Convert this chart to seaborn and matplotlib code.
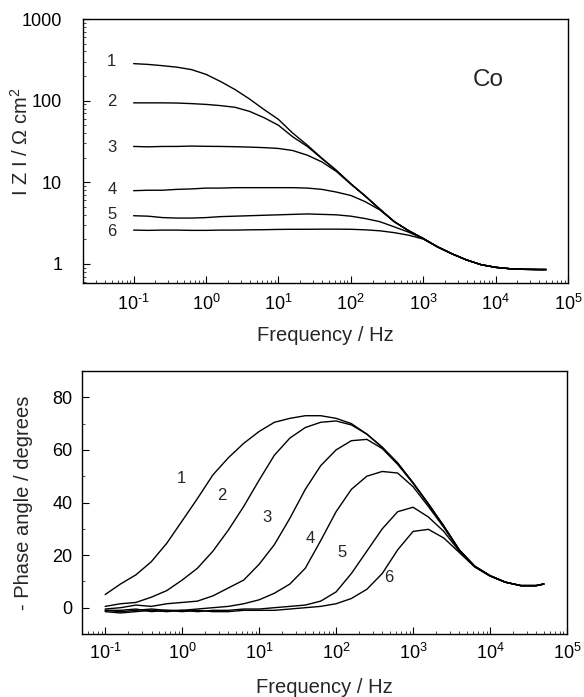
import matplotlib
matplotlib.use("Agg")
import matplotlib.pyplot as plt
import seaborn as sns
import pandas as pd
from matplotlib.ticker import LogLocator, MultipleLocator, NullFormatter, FixedLocator, FixedFormatter

# ---------------- data ----------------
freq = [0.1, 0.158, 0.251, 0.398, 0.631, 1, 1.58, 2.51, 3.98, 6.31, 10, 15.8, 25.1, 39.8, 63.1,
        100, 158, 251, 398, 631, 1000, 1580, 2510, 3980, 6310, 10000, 15800, 25100, 39800, 50000]

z1 = [284, 278, 268, 257, 240, 210, 172, 137, 105, 78, 59, 40, 28.5, 19.8, 14.0,
      9.6, 6.8, 4.7, 3.3, 2.55, 2.05, 1.62, 1.33, 1.12, 0.98, 0.91, 0.875, 0.86, 0.855, 0.855]
z2 = [94, 94, 94, 93.5, 92, 90, 87, 83, 74, 62, 50, 36, 27.5, 19.5, 14.0,
      9.6, 6.8, 4.7, 3.3, 2.55, 2.05, 1.62, 1.33, 1.12, 0.98, 0.91, 0.875, 0.86, 0.855, 0.855]
z3 = [27.5, 27.2, 27.5, 27.5, 27.8, 27.6, 27.5, 27.3, 27.0, 26.6, 26.0, 24.5, 21.5, 17.8, 13.6,
      9.5, 6.8, 4.7, 3.3, 2.55, 2.05, 1.62, 1.33, 1.12, 0.98, 0.91, 0.875, 0.86, 0.855, 0.855]
z4 = [7.9, 8.0, 8.0, 8.2, 8.3, 8.5, 8.5, 8.6, 8.6, 8.6, 8.6, 8.6, 8.5, 8.2, 7.6,
      6.9, 5.8, 4.6, 3.3, 2.55, 2.05, 1.62, 1.33, 1.12, 0.98, 0.91, 0.875, 0.86, 0.855, 0.855]
z5 = [3.9, 3.85, 3.7, 3.65, 3.65, 3.7, 3.8, 3.85, 3.9, 3.95, 4.0, 4.05, 4.1, 4.05, 4.0,
      3.85, 3.6, 3.3, 2.85, 2.45, 2.05, 1.62, 1.33, 1.12, 0.98, 0.91, 0.875, 0.86, 0.855, 0.855]
z6 = [2.6, 2.58, 2.6, 2.6, 2.58, 2.58, 2.6, 2.6, 2.62, 2.63, 2.65, 2.66, 2.66, 2.67, 2.67,
      2.66, 2.62, 2.55, 2.42, 2.25, 2.02, 1.62, 1.33, 1.12, 0.98, 0.91, 0.875, 0.86, 0.855, 0.855]

p1 = [5.0, 9.0, 12.5, 17.5, 24.5, 33.0, 41.5, 50.5, 57.0, 62.5, 67.0, 70.5, 72.0, 73.0, 73.0,
      72.0, 70.0, 66.0, 61.0, 55.0, 47.5, 39.5, 31.0, 22.0, 15.8, 12.2, 9.7, 8.4, 8.4, 9.0]
p2 = [0.5, 1.5, 2.0, 4.0, 6.5, 10.5, 15.0, 21.5, 29.5, 38.5, 48.5, 58.0, 64.5, 68.5, 70.5,
      71.0, 69.5, 66.0, 61.0, 55.0, 47.5, 39.5, 31.0, 22.0, 15.8, 12.2, 9.7, 8.4, 8.4, 9.0]
p3 = [-0.5, 0.0, 1.0, 0.5, 1.5, 2.0, 2.5, 4.5, 7.5, 10.5, 16.5, 24.0, 34.0, 45.0, 54.0,
      60.0, 63.5, 64.0, 60.5, 54.5, 47.3, 39.4, 31.0, 22.0, 15.8, 12.2, 9.7, 8.4, 8.4, 9.0]
p4 = [-1.0, -1.5, -1.0, -0.5, -1.0, -1.0, -0.5, 0.0, 0.5, 1.5, 3.0, 5.5, 9.0, 15.0, 25.5,
      36.5, 45.0, 50.0, 51.8, 51.2, 46.0, 38.5, 30.5, 21.8, 15.7, 12.1, 9.7, 8.4, 8.4, 9.0]
p5 = [-1.5, -2.0, -1.5, -1.0, -1.5, -1.0, -1.5, -1.0, -1.0, -0.5, -0.5, 0.0, 0.5, 1.0, 2.5,
      6.0, 13.0, 21.5, 30.0, 36.5, 38.2, 34.5, 29.0, 21.5, 15.6, 12.1, 9.7, 8.4, 8.4, 9.0]
p6 = [-1.0, -1.0, -0.5, -1.5, -1.0, -1.5, -1.0, -1.5, -1.5, -1.0, -1.0, -1.0, -0.5, 0.0, 0.5,
      1.5, 3.5, 7.0, 13.0, 22.0, 29.0, 29.8, 26.5, 21.0, 15.5, 12.0, 9.7, 8.4, 8.4, 9.0]

curve_names = ["1", "2", "3", "4", "5", "6"]
z_series = [z1, z2, z3, z4, z5, z6]
p_series = [p1, p2, p3, p4, p5, p6]

# tick labels
x_tick_vals = [0.1, 1, 10, 100, 1000, 10000, 100000]
x_tick_labels = ["10$^{\\text{-1}}$", "10$^{0}$", "10$^{1}$", "10$^{2}$", "10$^{3}$",
                 "10$^{4}$", "10$^{5}$"]
z_tick_vals = [1, 10, 100, 1000]
z_tick_labels = ["1", "10", "100", "1000"]
p_tick_vals = [0, 20, 40, 60, 80]

# label positions (data coordinates)
top_label_f = [0.05, 0.05, 0.05, 0.05, 0.05, 0.05]
top_label_z = [300, 97, 26.5, 8.1, 4.0, 2.47]
bot_label_f = [0.97, 3.3, 12.6, 46, 120, 490]
bot_label_p = [49.1, 42.7, 34.3, 26.3, 21.0, 11.4]

rows = []
for name, zs, ps in zip(curve_names, z_series, p_series):
    for f, z, p in zip(freq, zs, ps):
        rows.append({"curve": name, "freq": f, "Z": z, "phase": p})
df = pd.DataFrame(rows)

# ---------------- style ----------------
sns.set_theme(style="ticks")
plt.rcParams["font.family"] = ["Liberation Sans", "DejaVu Sans"]
plt.rcParams["mathtext.fontset"] = "custom"
plt.rcParams["mathtext.rm"] = "Liberation Sans"
plt.rcParams["mathtext.it"] = "Liberation Sans:italic"
plt.rcParams["axes.unicode_minus"] = False
plt.rcParams["axes.edgecolor"] = "black"
plt.rcParams["axes.linewidth"] = 1.0

W, H = 584, 697
fig = plt.figure(figsize=(W / 100, H / 100), dpi=100)
ax1 = fig.add_axes([83 / W, 1 - 283 / H, 485 / W, 264 / H])
ax2 = fig.add_axes([82 / W, 1 - 634 / H, 485 / W, 263 / H])

pal = ["black"] * 6

# ---- top panel: |Z| ----
ax1.set_xscale("log")
ax1.set_yscale("log")
sns.lineplot(data=df, x="freq", y="Z", hue="curve", palette=pal, estimator=None,
             legend=False, linewidth=1.0, ax=ax1)
ax1.set_xlim(0.02, 1e5)
ax1.set_ylim(0.585, 1000)
ax1.yaxis.set_major_locator(FixedLocator(z_tick_vals))
ax1.yaxis.set_major_formatter(FixedFormatter(z_tick_labels))
ax1.yaxis.set_minor_locator(LogLocator(base=10, subs=range(2, 10), numticks=20))
ax1.yaxis.set_minor_formatter(NullFormatter())
ax1.xaxis.set_major_locator(FixedLocator(x_tick_vals))
ax1.xaxis.set_major_formatter(FixedFormatter(x_tick_labels))
ax1.xaxis.set_minor_locator(LogLocator(base=10, subs=range(2, 10), numticks=40))
ax1.xaxis.set_minor_formatter(NullFormatter())
ax1.tick_params(axis="both", which="major", direction="in", length=5, width=0.8,
                labelsize=13, colors="black")
ax1.tick_params(axis="both", which="minor", direction="in", length=2.5, width=0.6)
ax1.tick_params(axis="y", which="major", pad=15)
ax1.tick_params(axis="x", which="major", pad=8)
ax1.set_xlabel("Frequency / Hz", fontsize=14.5)
ax1.set_ylabel("I Z I / \u03a9 cm$^{2}$", fontsize=14.5)
ax1.xaxis.set_label_coords(0.5, -0.163)
ax1.yaxis.set_label_coords(-0.105, 0.534)
for name, fx, zy in zip(curve_names, top_label_f, top_label_z):
    ax1.text(fx, zy, name, fontsize=12, ha="center", va="center")
ax1.text(8000, 180, "Co", fontsize=17.5, ha="center", va="center")

# ---- bottom panel: phase ----
ax2.set_xscale("log")
sns.lineplot(data=df, x="freq", y="phase", hue="curve", palette=pal, estimator=None,
             legend=False, linewidth=1.0, ax=ax2)
ax2.set_xlim(0.05, 1e5)
ax2.set_ylim(-10, 90)
ax2.yaxis.set_major_locator(FixedLocator(p_tick_vals))
ax2.yaxis.set_minor_locator(MultipleLocator(10))
ax2.xaxis.set_major_locator(FixedLocator(x_tick_vals))
ax2.xaxis.set_major_formatter(FixedFormatter(x_tick_labels))
ax2.xaxis.set_minor_locator(LogLocator(base=10, subs=range(2, 10), numticks=40))
ax2.xaxis.set_minor_formatter(NullFormatter())
ax2.tick_params(axis="both", which="major", direction="in", length=5, width=0.8,
                labelsize=13, colors="black")
ax2.tick_params(axis="both", which="minor", direction="in", length=2.5, width=0.6)
ax2.tick_params(axis="y", which="major", pad=7)
ax2.tick_params(axis="x", which="major", pad=6.5)
ax2.set_xlabel("Frequency / Hz", fontsize=14.5)
ax2.set_ylabel("- Phase angle / degrees", fontsize=14.5)
ax2.xaxis.set_label_coords(0.5, -0.168)
ax2.yaxis.set_label_coords(-0.101, 0.5)
for name, fx, py in zip(curve_names, bot_label_f, bot_label_p):
    ax2.text(fx, py, name, fontsize=12, ha="center", va="center")

for ax in (ax1, ax2):
    for s in ax.spines.values():
        s.set_visible(True)
        s.set_color("black")
        s.set_linewidth(1.0)

fig.savefig("out.png", dpi=100)
